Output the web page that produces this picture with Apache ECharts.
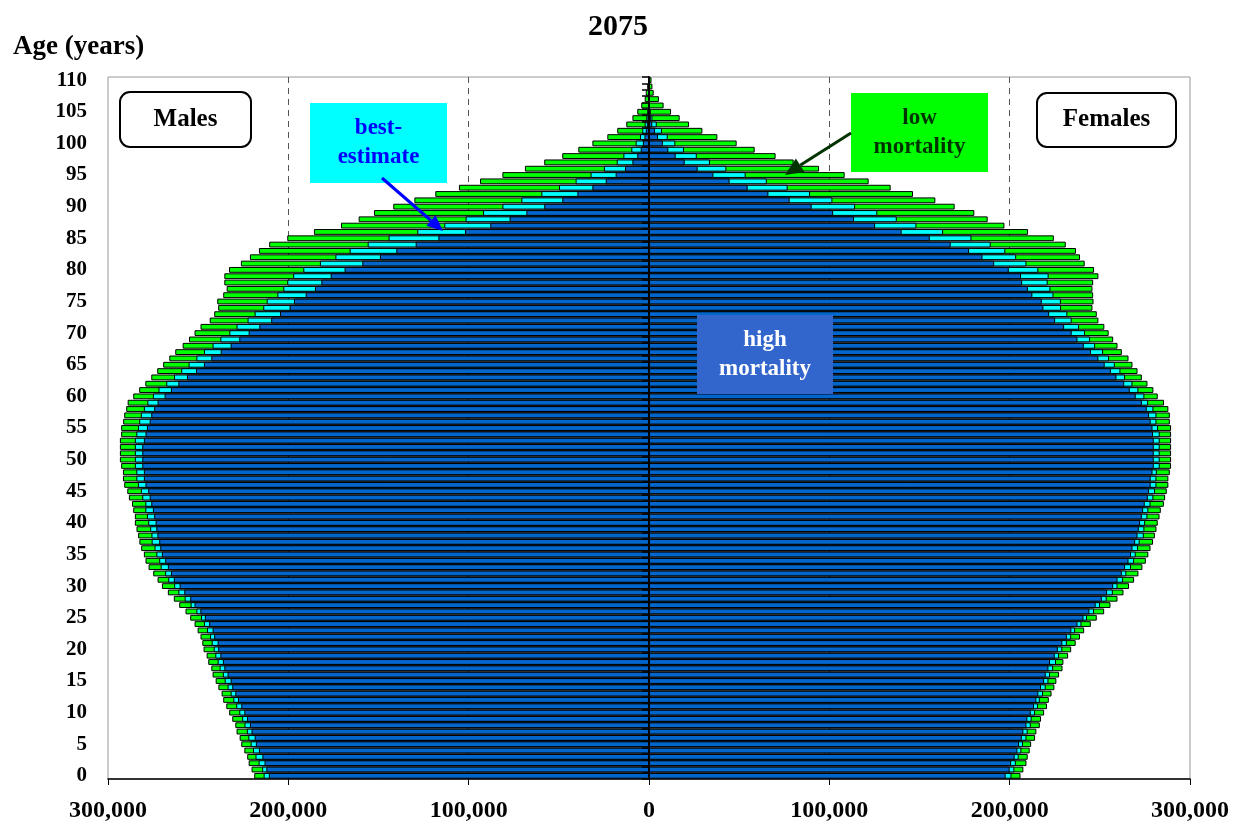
<!DOCTYPE html>
<html><head><meta charset="utf-8">
<script src="https://cdn.jsdelivr.net/npm/echarts@6/dist/echarts.min.js"></script>
<style>html,body{margin:0;padding:0;background:#fff}#c{width:1236px;height:823px}</style>
</head><body><div id="c"></div>
<script>
// Ages 0..110
const ages = ['0','1','2','3','4','5','6','7','8','9','10','11','12','13','14','15','16','17','18','19','20','21','22','23','24','25','26','27','28','29','30','31','32','33','34','35','36','37','38','39','40','41','42','43','44','45','46','47','48','49','50','51','52','53','54','55','56','57','58','59','60','61','62','63','64','65','66','67','68','69','70','71','72','73','74','75','76','77','78','79','80','81','82','83','84','85','86','87','88','89','90','91','92','93','94','95','96','97','98','99','100','101','102','103','104','105','106','107','108','109','110'];

// values in thousands of persons, index = age
const malesLow = [218.9,220.4,222.0,222.8,224.4,226.1,227.0,228.7,229.4,231.1,232.8,234.4,236.1,237.0,238.8,240.3,242.0,242.7,244.4,245.3,247.0,247.7,248.7,250.3,252.0,254.4,257.0,260.5,263.5,266.8,270.1,272.5,274.9,277.5,279.2,280.1,281.6,282.6,283.3,284.2,285.1,285.1,286.0,286.7,288.4,289.3,291.0,291.7,291.7,292.7,293.4,293.4,293.4,293.4,292.7,292.7,291.6,291.0,289.9,289.1,286.0,282.7,279.3,276.0,272.7,269.4,266.0,262.7,258.6,255.1,252.0,248.7,243.6,241.1,238.9,239.4,236.1,234.2,235.5,235.5,232.9,226.3,221.3,216.3,210.6,200.6,185.8,170.8,161.0,152.5,141.8,130.1,118.5,105.4,93.7,81.3,68.8,58.1,48.1,39.2,31.4,23.1,17.6,12.6,9.2,6.5,4.3,2.4,1.8,1.0,0.5];
const malesBest = [213.7,214.5,216.5,218.2,219.6,220.9,222.2,223.0,224.3,225.6,227.2,228.9,230.5,232.0,233.7,235.3,236.3,238.1,239.2,240.5,241.4,242.5,243.4,245.1,246.8,248.4,251.0,254.2,257.5,261.0,263.3,266.6,268.3,270.8,271.6,273.2,274.2,275.8,275.9,276.6,277.7,278.4,279.3,279.3,281.0,281.8,283.4,284.3,284.3,285.1,285.1,285.1,285.1,285.1,284.3,283.4,282.7,281.8,280.1,278.2,275.1,272.0,267.7,263.4,259.4,255.3,251.0,246.8,242.0,237.7,232.7,228.7,222.6,218.7,213.9,212.0,206.1,202.8,200.6,197.3,191.7,182.5,173.9,166.0,156.0,144.4,128.5,113.5,101.7,92.0,81.3,70.8,59.7,49.9,40.7,32.4,25.0,17.9,14.2,9.8,7.4,5.0,3.7,2.4,1.5,1.0,0.6,0.3,0.2,0.1,0.05];
const malesHigh = [210.8,212.2,213.2,214.4,216.3,218.0,218.7,220.4,221.3,222.9,224.4,226.1,227.9,229.4,231.1,232.0,233.7,235.5,236.3,237.7,238.9,239.2,241.1,242.0,243.9,246.3,248.8,252.0,254.4,257.7,260.3,263.5,265.1,266.8,268.3,270.1,271.0,271.6,272.6,273.2,273.6,274.4,275.1,276.0,276.9,277.7,279.2,280.1,280.1,281.0,281.0,281.0,281.0,280.1,279.2,278.4,276.9,276.0,274.4,272.5,268.6,265.1,261.0,256.2,251.2,246.8,242.7,237.5,232.0,227.2,222.0,216.1,209.5,204.6,199.3,196.9,190.4,185.2,181.7,176.5,168.8,159.0,149.2,140.1,129.4,116.8,102.0,88.0,77.3,68.0,58.1,48.1,39.7,31.4,24.0,18.5,13.3,9.2,6.5,4.6,3.4,2.5,1.8,1.2,0.8,0.5,0.3,0.2,0.1,0.05,0.02];
const femalesLow = [206.0,207.6,209.3,210.0,211.1,211.9,214.1,214.8,216.7,217.4,219.1,220.7,221.7,223.2,224.8,225.9,227.4,229.3,229.8,232.4,234.1,236.6,239.0,241.3,245.0,248.3,252.4,255.9,259.8,263.1,266.2,269.0,271.4,273.6,275.5,276.9,278.1,279.5,280.5,281.4,282.1,283.1,283.8,285.5,286.2,287.1,288.0,288.0,288.8,289.5,289.5,289.5,289.5,289.5,289.5,289.5,288.8,288.8,288.0,285.6,282.1,279.7,276.4,273.3,270.9,268.1,265.9,262.2,259.8,257.4,254.9,252.5,249.2,248.3,245.9,246.5,246.3,245.9,246.3,249.2,246.8,241.6,239.0,236.8,231.1,224.5,210.2,197.1,187.8,180.4,169.5,158.8,146.4,134.0,121.8,108.5,94.3,80.2,70.2,58.6,48.6,37.9,29.6,22.2,17.0,12.2,8.1,5.5,2.6,1.9,1.4];
const femalesBest = [201.0,202.6,203.4,205.0,206.5,207.4,209.3,210.0,211.7,212.2,214.1,215.7,216.7,218.5,220.0,221.5,222.4,224.1,225.7,227.4,229.2,231.7,234.1,236.3,239.8,242.9,246.8,250.1,253.8,257.2,259.8,262.9,264.7,267.3,269.0,269.9,271.2,272.1,274.4,274.7,275.1,276.4,276.9,278.1,279.7,280.6,281.4,281.4,281.6,283.2,283.2,283.2,283.2,283.2,283.2,282.3,281.4,281.4,279.7,276.8,274.7,271.4,268.1,264.0,261.4,258.3,255.1,251.8,247.4,244.6,241.8,238.5,234.4,232.0,228.5,228.4,224.3,222.6,221.1,221.6,215.9,209.3,203.6,197.6,189.5,178.8,163.1,148.3,137.4,126.6,114.3,101.7,89.3,76.9,65.3,53.6,42.9,33.8,26.5,19.4,14.6,10.4,7.2,4.3,1.9,1.0,0.5,0.3,0.15,0.1,0.05];
const femalesHigh = [197.8,200.0,200.8,202.8,204.3,205.2,206.7,207.6,209.3,209.8,211.7,213.5,214.8,215.9,217.4,219.1,220.0,221.5,222.4,225.0,226.7,229.2,231.7,234.2,237.6,240.9,244.2,247.7,251.1,254.0,257.4,259.8,262.2,264.0,265.9,267.3,268.1,269.6,270.9,271.6,272.3,273.3,274.0,274.9,276.6,277.3,278.2,278.2,279.2,279.9,279.9,279.9,279.9,279.9,279.5,279.2,278.2,277.3,276.0,273.3,269.9,266.6,263.5,259.2,256.1,252.7,249.2,245.1,241.1,237.6,234.4,230.2,225.2,221.9,218.7,217.8,212.6,210.1,206.9,206.3,199.5,191.4,184.9,177.5,167.3,155.7,140.1,125.4,113.7,102.1,90.2,78.0,66.2,54.7,44.7,35.7,27.0,19.8,14.8,10.7,7.7,5.0,3.3,1.8,1.0,0.5,0.3,0.15,0.1,0.05,0.02];

const FONT = 'Liberation Serif, Times New Roman, serif';
const BLUE = '#0066CC', CYAN = '#00FFFF', GREEN = '#00FF00';

function bar(name, vals, sign, color) {
  return {
    type: 'bar', name: name, silent: true,
    data: vals.map(v => sign * v),
    barGap: '-100%', barCategoryGap: '8%',
    yAxisIndex: 0,
    itemStyle: { color: color, borderColor: '#000', borderWidth: 1 }
  };
}

function arrow(x1, y1, x2, y2, color, w, hl, hw) {
  const dx = x2 - x1, dy = y2 - y1, L = Math.hypot(dx, dy);
  const ux = dx / L, uy = dy / L, px = -uy, py = ux;
  const bx = x2 - ux * hl, by = y2 - uy * hl;
  return [
    { type: 'line', z: 100, shape: { x1: x1, y1: y1, x2: bx, y2: by }, style: { stroke: color, lineWidth: w } },
    { type: 'polygon', z: 100, shape: { points: [[x2, y2], [bx + px * hw, by + py * hw], [bx - px * hw, by - py * hw]] }, style: { fill: color } }
  ];
}

function box(x, y, w, h, fill, lines, color, opts) {
  opts = opts || {};
  return [
    { type: 'rect', z: 100, shape: { x: x, y: y, width: w, height: h, r: opts.r || 0 },
      style: { fill: fill, stroke: opts.stroke || null, lineWidth: opts.lw || 0 } },
    { type: 'text', z: 101, style: { x: x + w / 2, y: y + h / 2, text: lines.join('\n'), fill: color,
      font: 'bold ' + (opts.fs || 22) + 'px ' + FONT, align: 'center', verticalAlign: 'middle', lineHeight: opts.lh || 29 } }
  ];
}

const chart = echarts.init(document.getElementById('c'), null, { renderer: 'canvas' });
chart.setOption({
  animation: false,
  backgroundColor: '#fff',
  title: [
    { text: '2075', left: 'center', top: 7, textStyle: { fontFamily: FONT, fontWeight: 'bold', fontSize: 30, color: '#000' } },
    { text: 'Age (years)', left: 8, top: 29, textStyle: { fontFamily: FONT, fontWeight: 'bold', fontSize: 27, color: '#000' } }
  ],
  grid: { left: 108, top: 77, width: 1082, height: 702, show: true, borderColor: '#999', borderWidth: 1, backgroundColor: 'transparent' },
  xAxis: {
    type: 'value', min: -300, max: 300, interval: 100,
    axisLine: { show: true, onZero: false, lineStyle: { color: '#000', width: 1.5 } },
    axisTick: { show: true, length: 6, lineStyle: { color: '#000' } },
    axisLabel: { margin: 20, color: '#000', fontFamily: FONT, fontWeight: 'bold', fontSize: 24,
      formatter: v => Math.abs(v * 1000).toLocaleString('en-US') },
    splitLine: { show: true, showMinLine: false, showMaxLine: false, lineStyle: { color: '#555', type: [6, 5], width: 1 } }
  },
  yAxis: [
    {
      type: 'category', data: ages, position: 'left',
      axisLine: { show: false, onZero: false },
      axisTick: { show: false },
      axisLabel: { interval: 4, margin: 21, color: '#000', fontFamily: FONT, fontWeight: 'bold', fontSize: 21 },
      splitLine: { show: false }
    },
    {
      type: 'category', data: ages, position: 'left', z: 10,
      axisLine: { show: true, onZero: true, lineStyle: { color: '#000', width: 2 } },
      axisTick: { show: true, interval: 0, length: 7, lineStyle: { color: '#000', width: 1.5 } },
      axisLabel: { show: false },
      splitLine: { show: false }
    }
  ],
  series: [
    bar('low mortality (males)', malesLow, -1, GREEN),
    bar('low mortality (females)', femalesLow, 1, GREEN),
    bar('best-estimate (males)', malesBest, -1, CYAN),
    bar('best-estimate (females)', femalesBest, 1, CYAN),
    bar('high mortality (males)', malesHigh, -1, BLUE),
    bar('high mortality (females)', femalesHigh, 1, BLUE)
  ],
  graphic: [
    ...box(120, 92, 131, 55, '#fff', ['Males'], '#000', { r: 10, stroke: '#000', lw: 2, fs: 25 }),
    ...box(1037, 93, 139, 54, '#fff', ['Females'], '#000', { r: 10, stroke: '#000', lw: 2, fs: 25 }),
    ...box(310, 103, 137, 80, CYAN, ['best-', 'estimate'], '#0000FF', { fs: 23 }),
    ...box(851, 93, 137, 79, GREEN, ['low', 'mortality'], '#003300', { fs: 23 }),
    ...box(697, 315, 136, 79, '#3366CC', ['high', 'mortality'], '#fff', { fs: 23 }),
    ...arrow(382, 178, 443, 231, '#0000FF', 3, 16, 7),
    ...arrow(851, 133, 785, 175, '#003300', 3, 18, 8)
  ]
});
</script></body></html>
